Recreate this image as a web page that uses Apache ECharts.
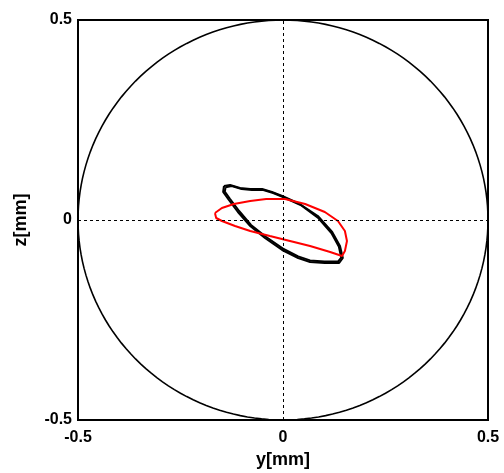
<!DOCTYPE html>
<html><head><meta charset="utf-8">
<script src="https://cdn.jsdelivr.net/npm/echarts@6/dist/echarts.min.js"></script>
<style>html,body{margin:0;padding:0;background:#fff}#c{width:504px;height:473px}</style>
</head><body><div id="c"></div>
<script>
// Tick labels
const xTicks = [-0.5, 0, 0.5];
const yTicks = [-0.5, 0, 0.5];
// Boundary circle radius [mm]
const boundaryRadius = 0.5;
// Black orbit, first pass [y, z] in mm
const blackLoop1 = [
  [-0.144,0.085],[-0.129,0.0875],[-0.105,0.080],[-0.080,0.0775],[-0.051,0.0775],[-0.027,0.070],
  [-0.002,0.060],[0.041,0.040],[0.085,0.010],[0.120,-0.030],[0.139,-0.065],[0.146,-0.095],
  [0.137,-0.1075],[0.102,-0.1075],[0.066,-0.105],[0.037,-0.095],[-0.002,-0.075],[-0.044,-0.045],
  [-0.080,-0.015],[-0.110,0.020],[-0.132,0.050],[-0.146,0.070],[-0.144,0.085]
];
// Black orbit, second pass
const blackLoop2 = [
  [-0.140,0.082],[-0.125,0.085],[-0.101,0.0775],[-0.076,0.075],[-0.048,0.075],[-0.024,0.0675],
  [0.000,0.0575],[0.043,0.0375],[0.085,0.006],[0.118,-0.0325],[0.136,-0.066],[0.142,-0.094],
  [0.134,-0.104],[0.101,-0.104],[0.066,-0.101],[0.037,-0.091],[-0.001,-0.071],[-0.041,-0.0425],
  [-0.078,-0.0125],[-0.107,0.0225],[-0.129,0.0525],[-0.142,0.071],[-0.140,0.082]
];
// Red orbit
const redLoop = [
  [-0.166,0.0175],[-0.149,0.030],[-0.120,0.040],[-0.080,0.0475],[-0.041,0.0525],[0.005,0.0525],
  [0.054,0.040],[0.102,0.020],[0.134,-0.0025],[0.151,-0.0275],[0.156,-0.0525],[0.151,-0.0775],
  [0.144,-0.090],[0.115,-0.080],[0.066,-0.065],[0.017,-0.0525],[-0.032,-0.040],[-0.080,-0.0275],
  [-0.117,-0.015],[-0.149,-0.0025],[-0.163,0.005],[-0.166,0.0175]
];

const FONT = 'Liberation Sans, Arial, sans-serif';
const chart = echarts.init(document.getElementById('c'), null, {renderer:'canvas'});
const lineSeries = (data, color) => ({
  type:'line', data, showSymbol:false, symbol:'none', smooth:false,
  lineStyle:{color, width:2}, animation:false, z:3
});
chart.setOption({
  animation:false,
  backgroundColor:'#fff',
  grid:{left:78, right:16, top:20, bottom:53, containLabel:false, outerBoundsMode:'none',
    show:true, borderColor:'#000', borderWidth:2, backgroundColor:'transparent'},
  xAxis:{
    type:'value', min:xTicks[0], max:xTicks[xTicks.length-1], interval:0.5,
    name:'y[mm]', nameLocation:'middle', nameGap:31,
    nameTextStyle:{fontFamily:FONT, fontWeight:'bold', fontSize:18, color:'#000'},
    axisLine:{show:false}, axisTick:{show:false}, splitLine:{show:false},
    axisLabel:{fontFamily:FONT, fontWeight:'bold', fontSize:16, color:'#000', margin:10,
      formatter:v=>String(v)}
  },
  yAxis:{
    type:'value', min:yTicks[0], max:yTicks[yTicks.length-1], interval:0.5,
    name:'z[mm]', nameLocation:'middle', nameGap:48, nameRotate:90,
    nameTextStyle:{fontFamily:FONT, fontWeight:'bold', fontSize:18, color:'#000'},
    axisLine:{show:false}, axisTick:{show:false}, splitLine:{show:false},
    axisLabel:{fontFamily:FONT, fontWeight:'bold', fontSize:16, color:'#000', margin:6,
      formatter:v=>String(v)}
  },
  series:[
    {
      type:'custom', data:[[0,0,boundaryRadius]], silent:true, z:2,
      renderItem:(params, api)=>{
        const cx = api.value(0), cy = api.value(1), r = api.value(2);
        const pts = [];
        for (let i=0;i<=180;i++){
          const a = i/180*2*Math.PI;
          pts.push(api.coord([cx + r*Math.cos(a), cy + r*Math.sin(a)]));
        }
        return {type:'polyline', shape:{points:pts}, style:{stroke:'#000', lineWidth:1.6, fill:null}};
      }
    },
    {
      type:'line', data:[], silent:true,
      markLine:{silent:true, symbol:'none', label:{show:false},
        lineStyle:{color:'#000', type:[3,3], width:1},
        data:[{xAxis:0},{yAxis:0}]}
    },
    lineSeries(blackLoop1, '#000'),
    lineSeries(blackLoop2, '#000'),
    lineSeries(redLoop, '#ff0000')
  ]
});
</script></body></html>
